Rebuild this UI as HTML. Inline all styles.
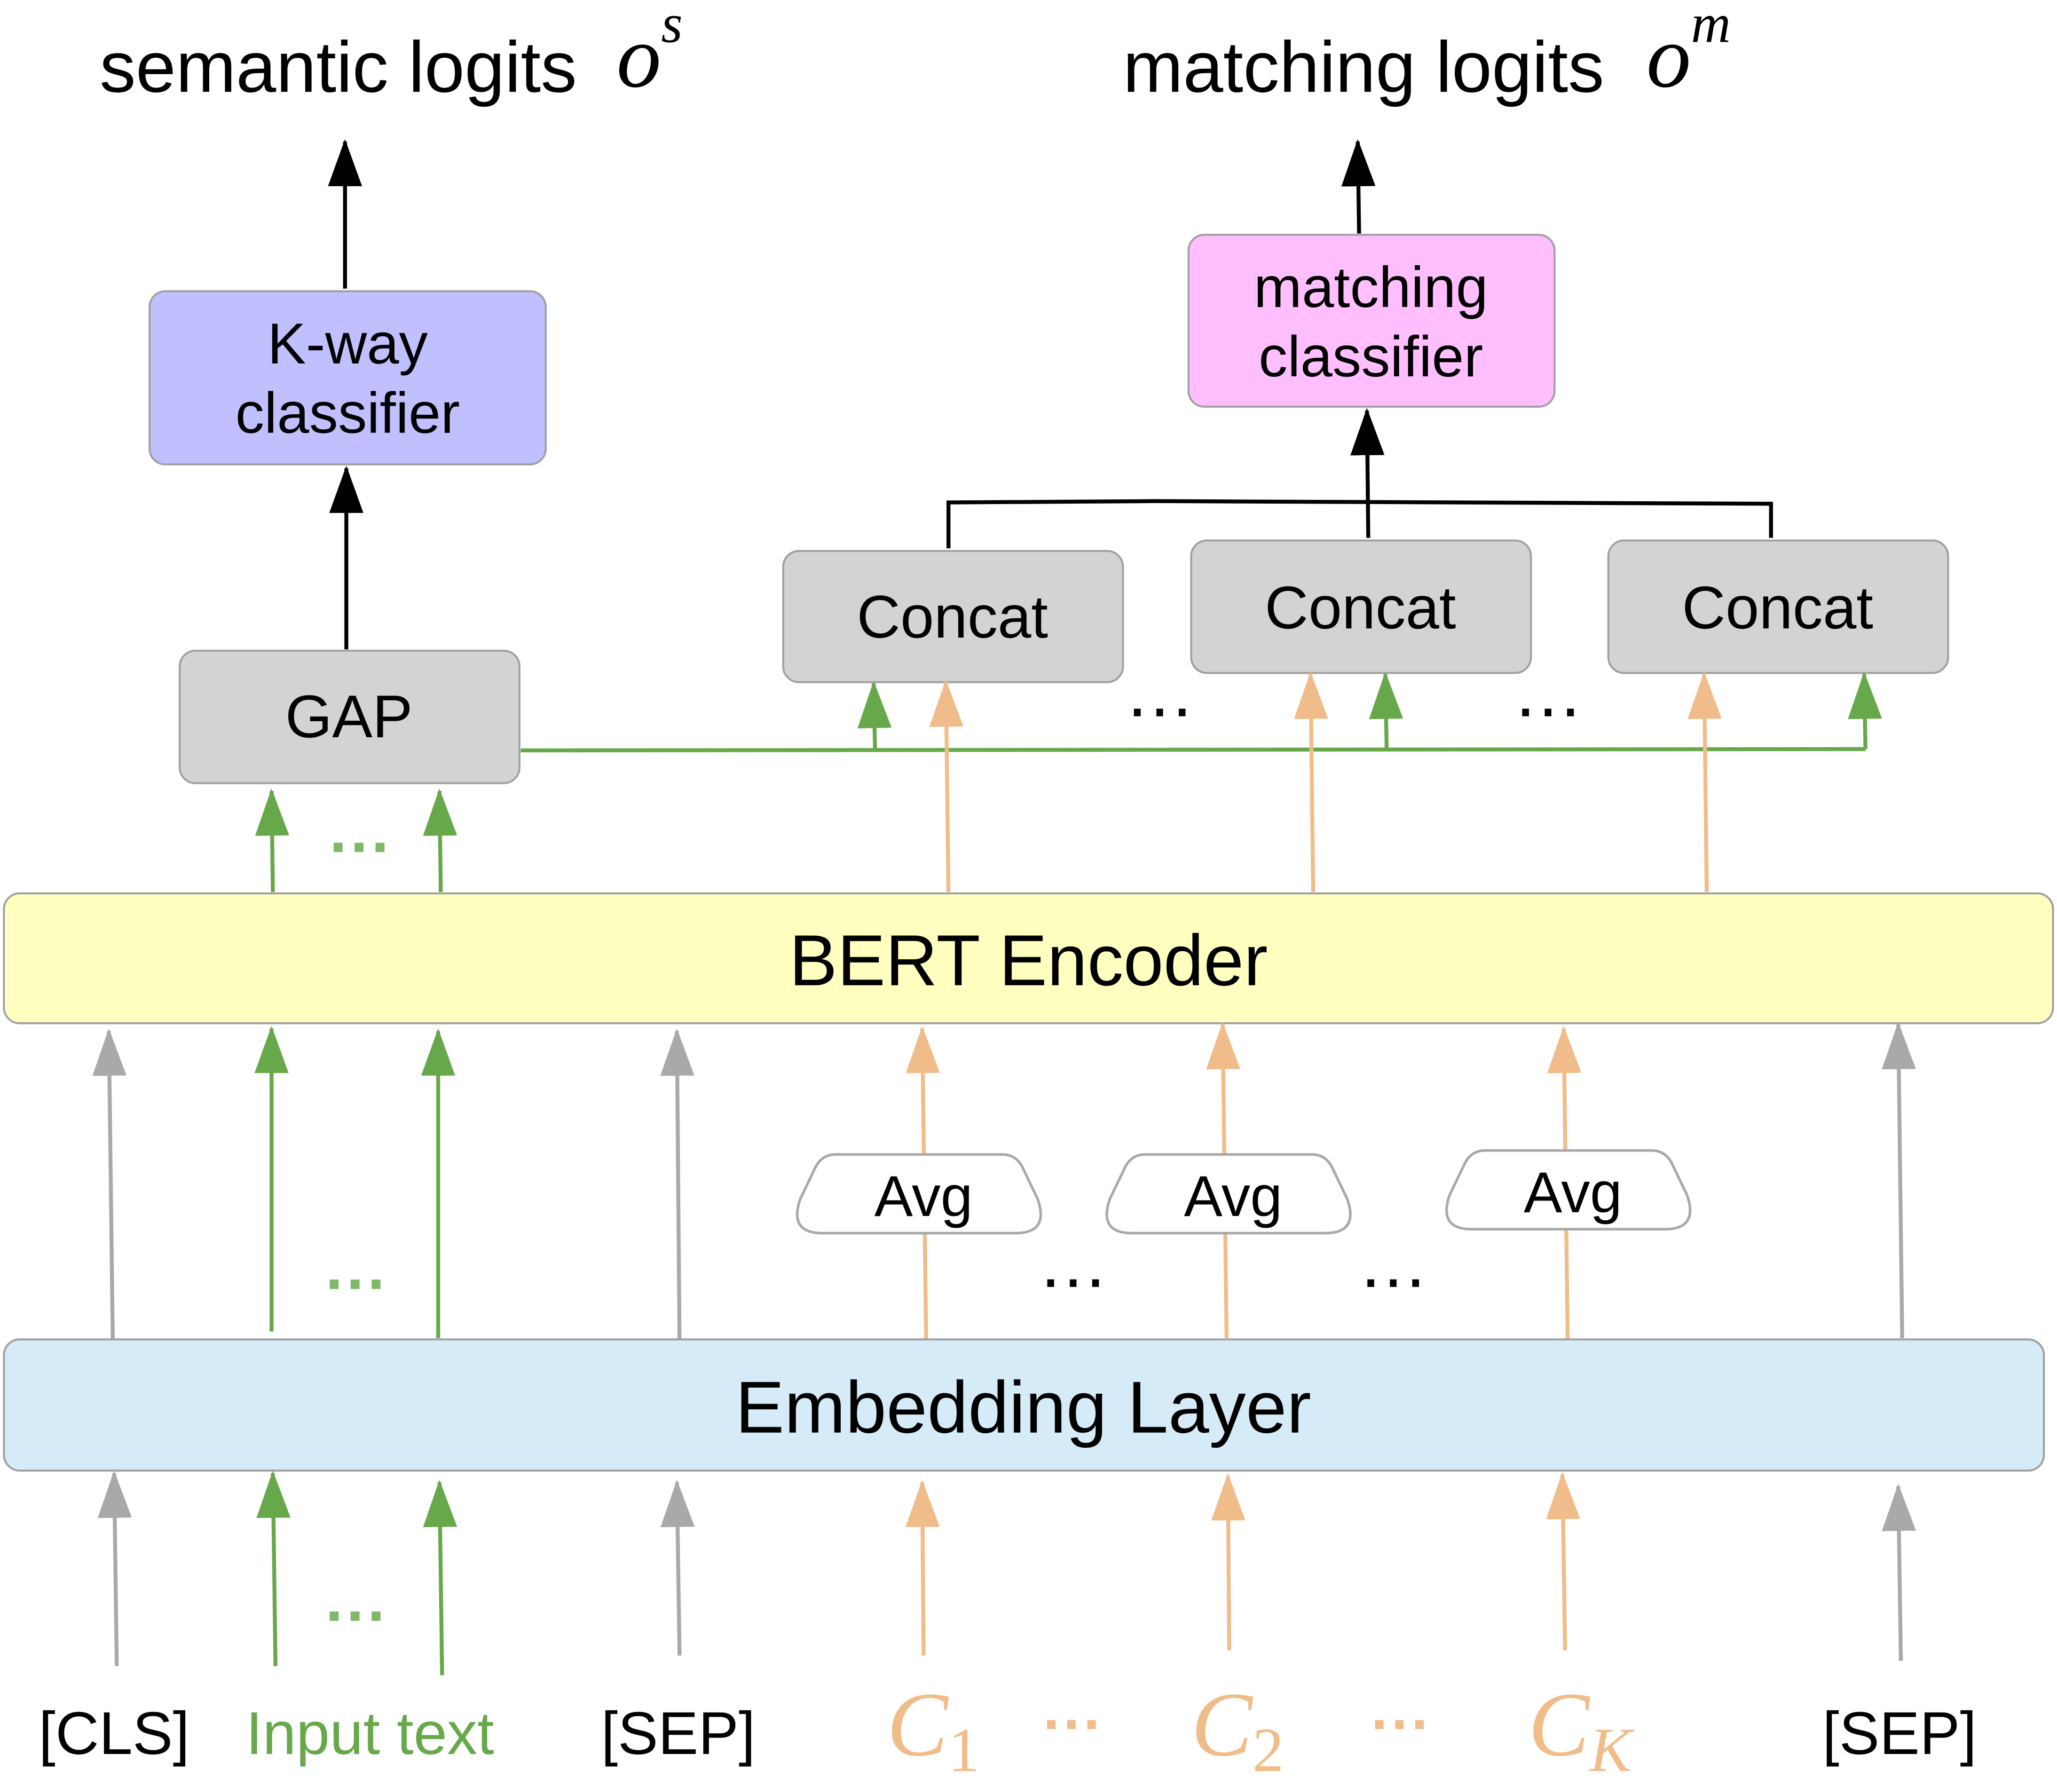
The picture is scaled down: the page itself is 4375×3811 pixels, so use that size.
<!DOCTYPE html>
<html><head><meta charset="utf-8"><style>
html,body{margin:0;padding:0;background:#fff;}
svg{display:block;}
text{font-family:"Liberation Sans",sans-serif;}
</style></head><body>
<svg width="4375" height="3811" viewBox="0 0 1568 1366" preserveAspectRatio="none" xmlns="http://www.w3.org/2000/svg">
<defs>
<marker id="aK" markerUnits="userSpaceOnUse" markerWidth="36" markerHeight="26" refX="34" refY="13" orient="auto" viewBox="0 0 36 26"><path d="M0 0 L36 13 L0 26 Z" fill="#000"/></marker>
<marker id="aG" markerUnits="userSpaceOnUse" markerWidth="36" markerHeight="26" refX="34" refY="13" orient="auto" viewBox="0 0 36 26"><path d="M0 0 L36 13 L0 26 Z" fill="#67a84a"/></marker>
<marker id="aO" markerUnits="userSpaceOnUse" markerWidth="36" markerHeight="26" refX="34" refY="13" orient="auto" viewBox="0 0 36 26"><path d="M0 0 L36 13 L0 26 Z" fill="#f0bd8a"/></marker>
<marker id="aY" markerUnits="userSpaceOnUse" markerWidth="36" markerHeight="26" refX="34" refY="13" orient="auto" viewBox="0 0 36 26"><path d="M0 0 L36 13 L0 26 Z" fill="#a9a9a9"/></marker>
</defs>

<!-- titles -->
<text x="76" y="70" font-size="55">semantic logits</text>
<text x="470" y="66" font-size="68" style="font-family:'Liberation Serif',serif;font-style:italic">o<tspan font-size="42" dy="-34">s</tspan></text>
<text x="856" y="70" font-size="55">matching logits</text>
<text x="1255" y="66" font-size="68" style="font-family:'Liberation Serif',serif;font-style:italic">o<tspan font-size="42" dy="-34">m</tspan></text>

<!-- top arrows -->
<g stroke="#000" stroke-width="3" fill="none">
<line x1="263" y1="220" x2="263" y2="108" marker-end="url(#aK)"/>
<line x1="264" y1="495" x2="264" y2="357" marker-end="url(#aK)"/>
<line x1="1036" y1="178" x2="1035" y2="108" marker-end="url(#aK)"/>
<line x1="1043" y1="410" x2="1042" y2="313" marker-end="url(#aK)"/>
<polyline points="723,418 723,383 880,382 1350,384 1350,410"/>
</g>

<!-- boxes -->
<rect x="114" y="222" width="302" height="132" rx="12" fill="#c0c0ff" stroke="#a0a0a0" stroke-width="1.5"/>
<text x="265" y="277" font-size="44" text-anchor="middle">K-way</text>
<text x="265" y="330" font-size="44" text-anchor="middle">classifier</text>

<rect x="906" y="179" width="279" height="131" rx="12" fill="#ffbfff" stroke="#a0a0a0" stroke-width="1.5"/>
<text x="1045" y="234" font-size="44" text-anchor="middle">matching</text>
<text x="1045" y="287" font-size="44" text-anchor="middle">classifier</text>

<rect x="137" y="496" width="259" height="101" rx="12" fill="#d3d3d3" stroke="#a0a0a0" stroke-width="1.5"/>
<text x="266" y="562" font-size="46" text-anchor="middle">GAP</text>

<rect x="597" y="420" width="259" height="100" rx="12" fill="#d3d3d3" stroke="#a0a0a0" stroke-width="1.5"/>
<text x="726" y="486" font-size="46" text-anchor="middle">Concat</text>
<rect x="908" y="412" width="259" height="101" rx="12" fill="#d3d3d3" stroke="#a0a0a0" stroke-width="1.5"/>
<text x="1037" y="479" font-size="46" text-anchor="middle">Concat</text>
<rect x="1226" y="412" width="259" height="101" rx="12" fill="#d3d3d3" stroke="#a0a0a0" stroke-width="1.5"/>
<text x="1355" y="479" font-size="46" text-anchor="middle">Concat</text>

<text x="884" y="546" font-size="54" text-anchor="middle">…</text>
<text x="1180" y="546" font-size="54" text-anchor="middle">…</text>

<!-- green GAP line -->
<g stroke="#67a84a" stroke-width="3" fill="none">
<polyline points="397,572 1422,571"/>
<line x1="667" y1="572" x2="666" y2="521" marker-end="url(#aG)"/>
<line x1="1057" y1="571" x2="1056" y2="514" marker-end="url(#aG)"/>
<line x1="1422" y1="571" x2="1421" y2="514" marker-end="url(#aG)"/>
<line x1="208" y1="680" x2="207" y2="603" marker-end="url(#aG)"/>
<line x1="336" y1="680" x2="335" y2="603" marker-end="url(#aG)"/>
</g>
<text x="275" y="662" font-size="48" font-weight="bold" fill="#7fb868" text-anchor="middle">···</text>

<g stroke="#f0bd8a" stroke-width="3" fill="none">
<line x1="723" y1="680" x2="721" y2="520" marker-end="url(#aO)"/>
<line x1="1001" y1="680" x2="999" y2="514" marker-end="url(#aO)"/>
<line x1="1301" y1="680" x2="1299" y2="514" marker-end="url(#aO)"/>
</g>

<!-- BERT -->
<rect x="3" y="681" width="1562" height="99" rx="12" fill="#ffffc0" stroke="#a0a0a0" stroke-width="1.5"/>
<text x="784" y="751" font-size="55" text-anchor="middle">BERT Encoder</text>

<!-- middle arrows -->
<g stroke-width="3" fill="none">
<line x1="86" y1="1025" x2="83" y2="786" stroke="#a9a9a9" marker-end="url(#aY)"/>
<line x1="207" y1="1015" x2="207" y2="784" stroke="#67a84a" marker-end="url(#aG)"/>
<line x1="334" y1="1020" x2="334" y2="786" stroke="#67a84a" marker-end="url(#aG)"/>
<line x1="518" y1="1025" x2="516" y2="786" stroke="#a9a9a9" marker-end="url(#aY)"/>
<line x1="706" y1="1022" x2="703" y2="784" stroke="#f0bd8a" marker-end="url(#aO)"/>
<line x1="935" y1="1020" x2="932" y2="781" stroke="#f0bd8a" marker-end="url(#aO)"/>
<line x1="1195" y1="1022" x2="1192" y2="784" stroke="#f0bd8a" marker-end="url(#aO)"/>
<line x1="1450" y1="1020" x2="1447" y2="781" stroke="#a9a9a9" marker-end="url(#aY)"/>
</g>

<!-- Avg shapes -->
<g fill="#fff" stroke="#a9a9a9" stroke-width="2">
<path d="M637 880 H764 Q774 880 779 889 L791 914 Q800 940 774 940 H627 Q601 940 610 914 L622 889 Q627 880 637 880 Z"/>
<path d="M873 880 H1000 Q1010 880 1015 889 L1027 914 Q1036 940 1010 940 H863 Q837 940 846 914 L858 889 Q863 880 873 880 Z"/>
<path d="M1132 877 H1259 Q1269 877 1274 886 L1286 911 Q1295 937 1269 937 H1122 Q1096 937 1105 911 L1117 886 Q1122 877 1132 877 Z"/>
</g>
<text x="704" y="927" font-size="44" text-anchor="middle">Avg</text>
<text x="940" y="927" font-size="44" text-anchor="middle">Avg</text>
<text x="1199" y="924" font-size="44" text-anchor="middle">Avg</text>

<text x="818" y="981" font-size="54" text-anchor="middle">…</text>
<text x="1062" y="981" font-size="54" text-anchor="middle">…</text>
<text x="272" y="995" font-size="48" font-weight="bold" fill="#7fb868" text-anchor="middle">···</text>

<!-- Embedding -->
<rect x="3" y="1021" width="1555" height="100" rx="12" fill="#d5ebf7" stroke="#a0a0a0" stroke-width="1.5"/>
<text x="780" y="1092" font-size="56" text-anchor="middle">Embedding Layer</text>

<!-- bottom arrows -->
<g stroke-width="3" fill="none">
<line x1="89" y1="1270" x2="87" y2="1123" stroke="#a9a9a9" marker-end="url(#aY)"/>
<line x1="210" y1="1270" x2="208" y2="1123" stroke="#67a84a" marker-end="url(#aG)"/>
<line x1="337" y1="1277" x2="335" y2="1130" stroke="#67a84a" marker-end="url(#aG)"/>
<line x1="518" y1="1262" x2="516" y2="1130" stroke="#a9a9a9" marker-end="url(#aY)"/>
<line x1="704" y1="1262" x2="703" y2="1130" stroke="#f0bd8a" marker-end="url(#aO)"/>
<line x1="937" y1="1258" x2="936" y2="1125" stroke="#f0bd8a" marker-end="url(#aO)"/>
<line x1="1193" y1="1258" x2="1191" y2="1124" stroke="#f0bd8a" marker-end="url(#aO)"/>
<line x1="1449" y1="1266" x2="1447" y2="1133" stroke="#a9a9a9" marker-end="url(#aY)"/>
</g>
<text x="272" y="1248" font-size="48" font-weight="bold" fill="#7fb868" text-anchor="middle">···</text>

<!-- bottom labels -->
<text x="87" y="1337" font-size="46" text-anchor="middle">[CLS]</text>
<text x="282" y="1337" font-size="46" fill="#67a84a" text-anchor="middle">Input text</text>
<text x="517" y="1337" font-size="46" text-anchor="middle">[SEP]</text>
<text x="1448" y="1337" font-size="46" text-anchor="middle">[SEP]</text>
<text x="676" y="1338" font-size="70" fill="#f0bd8a" style="font-family:'Liberation Serif',serif;font-style:italic">C<tspan style="font-style:normal" font-size="48" dy="12">1</tspan></text>
<text x="908" y="1338" font-size="70" fill="#f0bd8a" style="font-family:'Liberation Serif',serif;font-style:italic">C<tspan style="font-style:normal" font-size="48" dy="12">2</tspan></text>
<text x="1165" y="1338" font-size="70" fill="#f0bd8a" style="font-family:'Liberation Serif',serif;font-style:italic">C<tspan font-size="48" dy="12">K</tspan></text>
<text x="818" y="1330" font-size="46" font-weight="bold" fill="#f0bd8a" text-anchor="middle">···</text>
<text x="1068" y="1330" font-size="46" font-weight="bold" fill="#f0bd8a" text-anchor="middle">···</text>
</svg>
</body></html>
